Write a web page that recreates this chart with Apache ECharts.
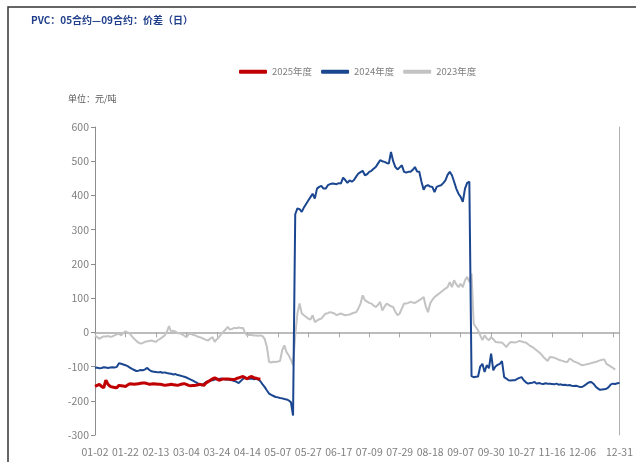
<!DOCTYPE html>
<html><head><meta charset="utf-8">
<script src="https://cdn.jsdelivr.net/npm/echarts@6/dist/echarts.min.js"></script>
<style>html,body{margin:0;padding:0;background:#fff;}#c{width:636px;height:462px;}</style>
</head><body><div id="c"></div>
<script>
const titleText = 'PVC：05合约—09合约：价差（日）';
const unitText = '单位：元/吨';
const seriesNames = ['2025年度', '2024年度', '2023年度'];
const yTicks = { min: -300, max: 600, step: 100 };

const categories = (
 '01-02 01-03 01-04 01-05 01-08 01-09 01-10 01-11 01-12 01-15 01-16 01-17 01-18 01-19 ' +
 '01-22 01-23 01-24 01-25 01-26 01-29 01-30 01-31 02-01 02-02 02-05 02-06 02-07 02-08 ' +
 '02-13 02-14 02-15 02-16 02-19 02-20 02-21 02-22 02-23 02-26 02-27 02-28 02-29 03-01 ' +
 '03-04 03-05 03-06 03-07 03-08 03-11 03-12 03-13 03-14 03-15 03-18 03-19 03-20 03-21 ' +
 '03-24 03-25 03-26 03-27 03-28 03-29 04-01 04-02 04-03 04-07 04-08 04-09 04-10 04-11 ' +
 '04-14 04-15 04-16 04-17 04-18 04-19 04-22 04-23 04-24 04-25 04-26 04-29 04-30 05-06 ' +
 '05-07 05-08 05-09 05-10 05-13 05-14 05-15 05-16 05-17 05-20 05-21 05-22 05-23 05-24 ' +
 '05-27 05-28 05-29 05-30 05-31 06-03 06-04 06-05 06-06 06-07 06-11 06-12 06-13 06-14 ' +
 '06-17 06-18 06-19 06-20 06-21 06-24 06-25 06-26 06-27 06-28 07-01 07-02 07-04 07-08 ' +
 '07-09 07-10 07-11 07-12 07-15 07-16 07-17 07-18 07-19 07-22 07-23 07-24 07-25 07-26 ' +
 '07-29 07-30 07-31 08-01 08-02 08-05 08-06 08-07 08-08 08-09 08-12 08-13 08-14 08-15 ' +
 '08-18 08-19 08-20 08-21 08-22 08-23 08-26 08-27 08-28 08-29 08-30 09-02 09-03 09-04 ' +
 '09-07 09-09 09-10 09-11 09-12 09-13 09-16 09-17 09-18 09-19 09-20 09-23 09-24 09-25 ' +
 '09-30 10-08 10-09 10-10 10-11 10-14 10-15 10-16 10-17 10-18 10-21 10-22 10-23 10-24 ' +
 '10-27 10-28 10-29 10-30 10-31 11-01 11-04 11-05 11-06 11-07 11-08 11-11 11-12 11-13 ' +
 '11-16 11-17 11-18 11-19 11-20 11-21 11-22 11-25 11-26 11-27 11-28 11-29 12-02 12-03 ' +
 '12-06 12-09 12-10 12-11 12-12 12-13 12-16 12-17 12-18 12-19 12-20 12-23 12-24 12-25 12-26 12-27 12-30 12-31'
).split(' ');

const values2025 = [
 -158,-155,-152,-158,-162,-140,-152,-158,-160,-161,-162,-155,-156,-157,-158,-154,-150,-151,-152,-151,
 -150,-149,-148,-148,-150,-152,-151,-150,-151,-152,-152,-153,-155,-154,-153,-152,-153,-154,-155,-153,
 -151,-150,-152,-155,-156,-155,-155,-154,-152,-153,-155,-148,-144,-140,-136,-133,-136,-140,-138,-136,
 -136,-136,-137,-138,-138,-135,-133,-131,-129,-133,-136,-131,-129,-133,-134,-136,-136
];

const values2024 = [
 -104,-103,-105,-104,-102,-103,-104,-103,-102,-103,-101,-90,-92,-94,-96,-99,-103,-107,-110,-113,
 -112,-110,-111,-108,-104,-110,-114,-115,-116,-117,-116,-118,-117,-119,-120,-121,-123,-122,-125,-126,
 -128,-130,-132,-135,-138,-141,-145,-148,-152,-155,-150,-145,-143,-141,-140,-138,-137,-136,-135,-136,
 -138,-137,-139,-140,-142,-145,-148,-142,-136,-132,-134,-136,-135,-137,-136,-138,-143,-152,-160,-170,
 -179,-183,-186,-189,-190,-192,-193,-195,-196,-199,-204,-243,345,362,360,352,365,375,385,395,
 405,391,420,425,428,420,420,430,433,435,434,433,436,435,452,445,437,444,440,445,
 455,464,468,472,459,462,469,472,478,483,493,503,500,498,495,493,527,500,483,476,
 482,488,469,467,469,469,475,483,470,469,440,417,428,430,426,425,410,425,428,430,
 436,444,460,469,459,440,420,405,396,381,420,437,440,-128,-131,-130,-129,-100,-92,-116,
 -96,-105,-62,-111,-100,-95,-92,-84,-131,-135,-140,-141,-140,-140,-136,-133,-131,-140,-146,-150,
 -148,-147,-145,-150,-148,-150,-151,-149,-150,-150,-151,-152,-150,-153,-152,-154,-153,-155,-154,-156,
 -157,-156,-158,-160,-159,-155,-150,-146,-145,-150,-158,-164,-168,-167,-166,-165,-160,-152,-150,-151,
 -149,-148
];

const values2023 = [
 -9,-14,-19,-15,-12,-12,-11,-13,-12,-9,-6,-4,-9,-2,3,0,-4,-12,-19,-25,
 -30,-33,-31,-28,-26,-25,-24,-26,-28,-22,-19,-14,-9,1,18,1,5,2,-3,-3,
 -6,-10,-14,-6,-4,-7,-9,-12,-14,-16,-19,-22,-24,-18,-14,-28,-20,-14,-5,2,
 8,16,8,10,13,12,14,13,13,-3,-9,-7,-8,-9,-9,-10,-9,-11,-20,-43,
 -87,-88,-86,-87,-85,-84,-53,-38,-58,-67,-80,-96,-10,55,84,55,50,45,40,37,
 50,30,34,38,40,48,55,56,59,57,55,50,53,55,52,50,51,52,55,57,
 59,70,84,108,94,90,86,84,78,74,80,89,64,75,84,80,76,74,60,50,
 55,70,84,84,86,89,87,86,90,94,98,103,75,59,84,95,103,108,113,118,
 123,128,132,147,132,152,140,132,142,132,152,162,147,172,25,15,6,-9,-23,-9,
 -18,-23,-14,-20,-28,-29,-30,-30,-36,-43,-34,-28,-29,-30,-28,-25,-27,-29,-30,-35,
 -40,-43,-48,-53,-58,-64,-72,-78,-84,-72,-73,-74,-77,-80,-82,-84,-86,-87,-77,-80,
 -85,-87,-90,-94,-96,-95,-93,-92,-90,-88,-87,-84,-82,-80,-79,-92,-96,-100,-104,-109
];

const LABEL_STEP = 14;
const lastIdx = categories.length - 1;
const narrow = "'Liberation Sans Narrow','Noto Sans CJK SC',sans-serif";

const chart = echarts.init(document.getElementById('c'), null, { renderer: 'canvas' });
chart.setOption({
  animation: false,
  backgroundColor: '#fff',
  title: {
    text: titleText, left: 26, top: 10,
    textStyle: { fontSize: 10, fontWeight: 'bold', color: '#1f3f8a', fontFamily: "'Noto Sans CJK SC',sans-serif" }
  },
  graphic: [
    { type: 'polyline', shape: { points: [[8, 462], [8, 7], [636, 7]] }, style: { stroke: '#333', lineWidth: 1.5, fill: null } },
    { type: 'text', left: 68, top: 94, style: { text: unitText, fill: '#595959', font: "9px 'Noto Sans CJK SC'" } }
  ],
  legend: {
    data: seriesNames, left: 234, top: 62, icon: 'roundRect', itemWidth: 28, itemHeight: 4, itemGap: 9,
    textStyle: { fontSize: 9.5, color: '#7f7f7f', fontFamily: narrow }
  },
  grid: { left: 95, right: 15, top: 127, bottom: 27 },
  xAxis: [
    {
      type: 'category', data: categories, boundaryGap: false, position: 'bottom',
      axisLine: { onZero: true, lineStyle: { color: '#a6a6a6', width: 1.5 } },
      axisTick: { show: true, interval: (i) => i % LABEL_STEP === 0, length: 5, lineStyle: { color: '#a6a6a6' } },
      axisLabel: { show: false }
    },
    {
      type: 'category', data: categories, boundaryGap: false, position: 'bottom',
      axisLine: { show: false, onZero: false }, axisTick: { show: false },
      axisLabel: {
        interval: (i) => (i % LABEL_STEP === 0 && i <= lastIdx - 17) || i === lastIdx,
        fontSize: 10.5, color: '#7f7f7f', margin: 12, fontFamily: narrow
      }
    }
  ],
  yAxis: [
    {
      type: 'value', min: yTicks.min, max: yTicks.max, interval: yTicks.step,
      axisLine: { show: true, lineStyle: { color: '#8c8c8c' } },
      axisTick: { show: true, length: 4, lineStyle: { color: '#8c8c8c' } },
      splitLine: { show: false },
      axisLabel: { fontSize: 10.5, color: '#7f7f7f', margin: 6, fontFamily: narrow }
    },
    {
      type: 'value', min: yTicks.min, max: yTicks.max, interval: yTicks.step, position: 'right',
      axisLine: { show: true, lineStyle: { color: '#b0b0b0' } },
      axisTick: { show: false }, axisLabel: { show: false }, splitLine: { show: false }
    }
  ],
  series: [
    { name: seriesNames[2], type: 'line', data: values2023, symbol: 'none', xAxisIndex: 0, yAxisIndex: 0,
      lineStyle: { color: '#c3c3c3', width: 2 }, itemStyle: { color: '#c3c3c3' }, z: 2 },
    { name: seriesNames[1], type: 'line', data: values2024, symbol: 'none', xAxisIndex: 0, yAxisIndex: 0,
      lineStyle: { color: '#1b4690', width: 2 }, itemStyle: { color: '#1b4690' }, z: 3 },
    { name: seriesNames[0], type: 'line', data: values2025, symbol: 'none', xAxisIndex: 0, yAxisIndex: 0,
      lineStyle: { color: '#c00000', width: 3 }, itemStyle: { color: '#c00000' }, z: 4 }
  ]
});
</script></body></html>
